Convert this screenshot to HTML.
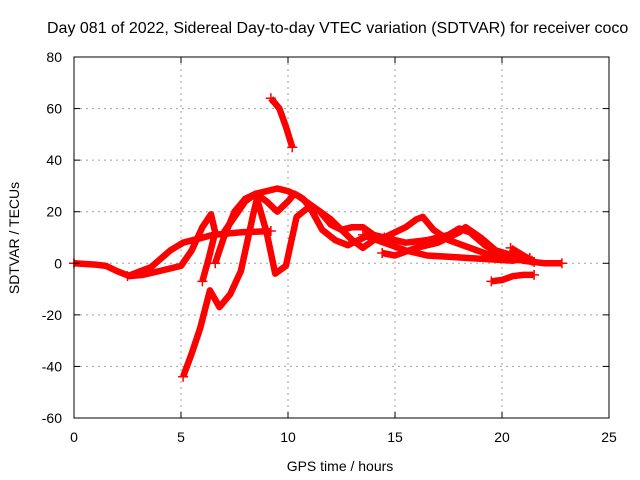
<!DOCTYPE html>
<html><head><meta charset="utf-8"><style>
body{margin:0;background:#fff}
svg{display:block;font-family:"Liberation Sans",sans-serif}
</style></head><body>
<svg id="chart" width="640" height="480">
<rect width="640" height="480" fill="#fff"/>
<text x="47" y="33" text-anchor="start" font-size="16">Day 081 of 2022, Sidereal Day-to-day VTEC variation (SDTVAR) for receiver coco</text>
<g id="grid"></g><g id="series"></g><g id="axes"></g>
<text x="340" y="471" text-anchor="middle" font-size="14">GPS time / hours</text>
<text transform="translate(19,238) rotate(-90)" text-anchor="middle" font-size="14">SDTVAR / TECUs</text>
</svg>
<script>
const xTicks=[0,5,10,15,20,25];
const yTicks=[-60,-40,-20,0,20,40,60,80];
const trackA=[[0,0],[1,-0.5],[1.5,-1],[2,-3],[2.6,-5],[3.2,-4.5],[4,-3],[5,-1],[5.5,5],[6,14],[6.4,19],[6.6,12],[6.3,2],[6.0,-7]];
const trackB=[[2.5,-5],[3.6,-1.5],[4.5,5],[5.1,8],[6.5,11],[7.8,12],[9.2,12.5]];
const trackC=[[5.1,-44],[5.5,-35],[5.9,-25],[6.35,-10.5],[6.8,-17],[7.3,-12],[7.8,-3],[8.4,20],[8.55,25],[9,12],[9.4,-4],[9.9,-1],[10.4,18],[11,22],[11.5,20],[12,15],[12.5,13],[13,14],[13.5,14],[14,11],[14.5,10],[15,12],[15.5,14],[16,17],[16.3,18],[16.8,13],[17.5,9],[18.5,6],[19.5,3],[20.5,2],[21.3,2]];
const trackD=[[6.6,0],[7,10],[7.5,20],[8,25],[8.5,27],[9,28],[9.5,29],[10,28],[10.5,26],[11,23],[11.5,20],[12,17],[12.5,13],[13,9],[13.5,6],[14,9],[14.5,10]];
const trackE=[[7,12],[7.5,18],[8,24],[8.5,27],[9,24],[9.5,20],[10,24],[10.3,27],[10.7,25],[11,22],[11.6,13],[12.2,9],[12.8,7],[13.3,9],[13.8,11],[14.5,10],[15.5,8],[16.5,9],[17.5,11],[18,13.5],[18.5,12],[19.2,7],[20,3],[21,1],[22,0],[22.8,0]];
const trackF=[[14.4,4],[15,3],[16,6],[17,8],[18,12],[18.3,14],[19,10],[19.7,5],[20.5,3],[21,1],[21.5,0.5]];
const trackG=[[13.5,11],[14.5,8],[15.5,5],[16.5,3],[17.5,2.5],[18.5,2],[19.5,1.5],[20.5,1],[21.3,2]];
const trackH=[[19.5,-7],[20,-6.5],[20.5,-5],[21,-4.5],[21.5,-4.5]];
const trackI=[[9.2,64],[9.6,60],[9.9,53],[10.2,45]];
const trackJ=[[20.4,6],[21,3],[21.4,1]];
const tracks=[trackA,trackB,trackC,trackD,trackE,trackF,trackG,trackH,trackI,trackJ];
const X0=74,X1=609,Y0=418,Y1=57;
const xs=v=>X0+(v-0)/25*(X1-X0);
const ys=v=>Y0-(v+60)/140*(Y0-Y1);
const NS="http://www.w3.org/2000/svg";
function mk(t,a,p){const e=document.createElementNS(NS,t);for(const k in a)e.setAttribute(k,a[k]);p.appendChild(e);return e;}
const grid=document.getElementById('grid'),axes=document.getElementById('axes'),ser=document.getElementById('series');
xTicks.forEach(t=>{const x=xs(t);
 if(t>0&&t<25){const l=mk('line',{x1:x,x2:x,y1:Y1,y2:Y0,stroke:'#a0a0a0','stroke-dasharray':'2,4'},grid);
 
 }
 mk('line',{x1:x,x2:x,y1:Y0,y2:Y0-6,stroke:'#000'},axes);
 mk('line',{x1:x,x2:x,y1:Y1,y2:Y1+6,stroke:'#000'},axes);
 const tx=mk('text',{x:x,y:Y0+24,'text-anchor':'middle','font-size':'14'},axes);tx.textContent=t;
 
 
});
yTicks.forEach(t=>{const y=ys(t);
 if(t>-60&&t<80){const l=mk('line',{x1:X0,x2:X1,y1:y,y2:y,stroke:'#a0a0a0','stroke-dasharray':'2,4'},grid);
 
 }
 mk('line',{x1:X0,x2:X0+6,y1:y,y2:y,stroke:'#000'},axes);
 mk('line',{x1:X1,x2:X1-6,y1:y,y2:y,stroke:'#000'},axes);
 const tx=mk('text',{x:X0-12,y:y+5,'text-anchor':'end','font-size':'14'},axes);tx.textContent=t;
 
 
});
const fr=mk('rect',{x:X0,y:Y1,width:X1-X0,height:Y0-Y1,fill:'none',stroke:'#000'},axes);


tracks.forEach((tr,i)=>{
 const pts=tr.map(p=>xs(p[0]).toFixed(1)+','+ys(p[1]).toFixed(1)).join(' ');
 const pl=mk('polyline',{points:pts,fill:'none',stroke:'#ff0000','stroke-width':'6.5','stroke-linejoin':'round','stroke-linecap':'butt'},ser);
 
 
 [tr[0],tr[tr.length-1]].forEach(p=>{
  const x=xs(p[0]),y=ys(p[1]);
  mk('path',{d:`M${x-5},${y}H${x+5}M${x},${y-5}V${y+5}`,stroke:'#ff0000','stroke-width':'1.5'},ser);
 });
});
</script>
</body></html>
